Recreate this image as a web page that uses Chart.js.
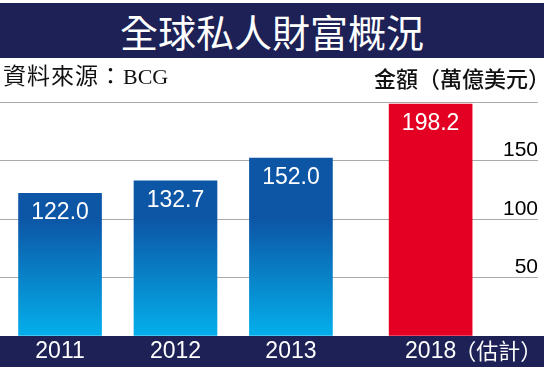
<!DOCTYPE html>
<html>
<head>
<meta charset="utf-8">
<script src="https://cdn.jsdelivr.net/npm/chart.js@4"></script>
<style>
  html, body { margin: 0; padding: 0; background: #fff; }
  #wrap { position: relative; width: 544px; height: 368px; overflow: hidden; }
  #chart { position: absolute; left: 0; top: 0; }
  .titulo {
    position: absolute; left: 0; top: 3px; width: 544px; height: 55px;
    background: #1d2156; color: #fff; text-align: center;
    font: 38px/55px "Noto Sans CJK TC", sans-serif;
  }
  .fonte {
    position: absolute; left: 3px; top: 62px; letter-spacing: 1px;
    font: 23px/30px "Liberation Serif", "Noto Sans CJK TC", serif; color: #111;
  }
  .fonte span { letter-spacing: 0; font-size: 22px; }
  .unidade {
    position: absolute; right: -6px; top: 62px;
    font: 500 22px/30px "Noto Sans CJK TC", sans-serif; color: #111;
  }
</style>
</head>
<body>
<div id="wrap">
  <canvas id="chart" width="544" height="368"></canvas>
  <div class="titulo">全球私人財富概況</div>
  <div class="fonte">資料來源：<span>BCG</span></div>
  <div class="unidade">金額（萬億美元）</div>
</div>
<script>
// Dados do gráfico
const anos = ['2011', '2012', '2013', '2018'];
const sufixos = ['', '', '', '（估計）'];
const posicoes = [0, 1, 2, 3.21];   // posição de cada ano no eixo x
const valores = [122.0, 132.7, 152.0, 198.2];
const estimado = [false, false, false, true];
const ticksY = [50, 100, 150];

const AZUL_ESCURO = '#0d56a6';
const AZUL_CLARO = '#04afeb';
const VERMELHO = '#e30022';
const MARINHO = '#1d2156';

// Cor de cada barra: gradiente azul ou vermelho para a estimativa
function corBarra(ctx) {
    if (estimado[ctx.dataIndex]) return VERMELHO;
    const area = ctx.chart.chartArea;
    if (!area) return AZUL_ESCURO;
    const g = ctx.chart.ctx.createLinearGradient(0, area.top, 0, area.bottom);
    g.addColorStop(0, AZUL_ESCURO);
    g.addColorStop(0.5, AZUL_ESCURO);
    g.addColorStop(1, AZUL_CLARO);
    return g;
}

// Plugin: faixa azul-marinho no rodapé, rótulos dos anos e valores nas barras
const desenhoExtra = {
    id: 'desenhoExtra',
    afterDraw(chart) {
        const c = chart.ctx;
        const x = chart.scales.x;
        const area = chart.chartArea;
        c.save();
        c.fillStyle = MARINHO;
        c.fillRect(0, area.bottom, chart.width, 31);

        c.fillStyle = '#fff';
        c.textBaseline = 'middle';
        c.font = '23px "Liberation Sans", Arial, sans-serif';
        anos.forEach((ano, i) => {
            const px = x.getPixelForValue(posicoes[i]);
            const w = c.measureText(ano).width;
            c.textAlign = 'left';
            c.fillText(ano, px - w / 2, area.bottom + 16);
            if (sufixos[i]) {
                c.font = '22px "Noto Sans CJK TC", sans-serif';
                c.fillText(sufixos[i], px + w / 2 - 2, area.bottom + 15);
                c.font = '23px "Liberation Sans", Arial, sans-serif';
            }
        });

        // valores dentro das barras
        const meta = chart.getDatasetMeta(0);
        c.textAlign = 'center';
        c.textBaseline = 'alphabetic';
        meta.data.forEach((bar, i) => {
            c.fillText(valores[i].toFixed(1), bar.x, bar.y + 26);
        });
        c.restore();
    }
};

const chart = new Chart(document.getElementById('chart'), {
    type: 'bar',
    data: {
        datasets: [{
            data: valores.map((v, i) => ({ x: posicoes[i], y: v })),
            backgroundColor: corBarra,
            borderWidth: 0,
            barThickness: 83,
        }]
    },
    plugins: [desenhoExtra],
    options: {
        responsive: false,
        devicePixelRatio: 1,
        animation: false,
        layout: { padding: { top: 102, bottom: 32, left: 0, right: 6 } },
        plugins: { legend: { display: false }, tooltip: { enabled: false } },
        scales: {
            x: {
                type: 'linear',
                offset: false,
                min: -0.52,
                max: 4.14,
                display: false,
            },
            y: {
                position: 'right',
                min: 0,
                max: 200,
                afterFit: s => { s.width = 0; },
                afterBuildTicks: s => {
                    s.ticks = [0, ...ticksY, 200].map(v => ({ value: v }));
                },
                border: { display: false },
                grid: { color: '#aaaaaa', lineWidth: 1, drawTicks: false },
                ticks: {
                    mirror: true,
                    padding: 0,
                    labelOffset: -10,
                    color: '#000',
                    font: { family: '"Liberation Sans", Arial, sans-serif', size: 21 },
                    callback: v => ticksY.includes(v) ? String(v) : '',
                }
            }
        }
    }
});
</script>
</body>
</html>
